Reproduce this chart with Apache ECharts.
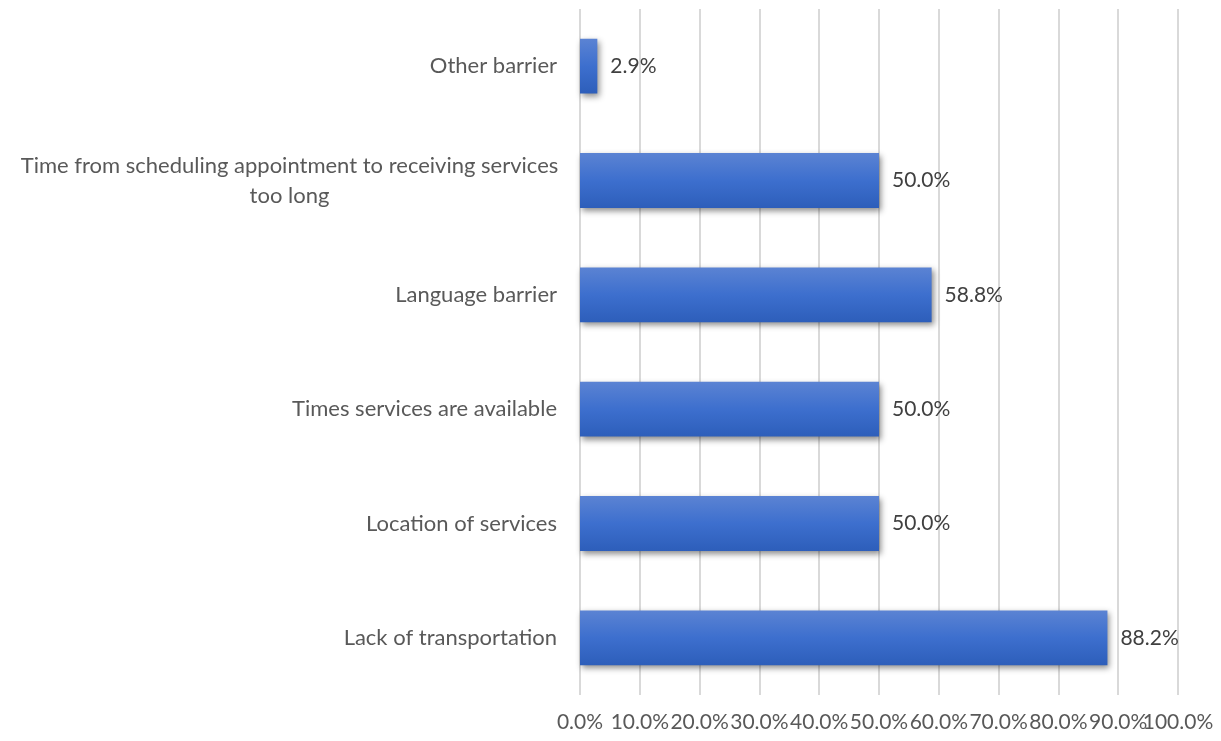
<!DOCTYPE html>
<html>
<head>
<meta charset="utf-8">
<script src="https://cdn.jsdelivr.net/npm/echarts@6/dist/echarts.min.js"></script>
<style>
  html, body { margin: 0; padding: 0; background: #fff; }
  #chart { width: 1221px; height: 741px; }
</style>
</head>
<body>
<div id="chart"></div>
<script>
// categories listed bottom -> top (category axis draws first item at bottom)
var categories = [
    'Lack of transportation',
    'Location of services',
    'Times services are available',
    'Language barrier',
    'Time from scheduling appointment to receiving services too long',
    'Other barrier'
];
var values = [88.2, 50.0, 50.0, 58.8, 50.0, 2.9];
var xTicks = [0, 10, 20, 30, 40, 50, 60, 70, 80, 90, 100];

var chart = echarts.init(document.getElementById('chart'));
var font = 'Lato, "Open Sans", sans-serif';
var catSize = 22;
var maxLabelWidth = 545;
var xMin = xTicks[0];
var xMax = xTicks[xTicks.length - 1];

// wrap long labels word by word, centre the lines like the original
var ctx = document.createElement('canvas').getContext('2d');
ctx.font = catSize + 'px ' + font;
function wrapLabel(text) {
    var words = text.split(' ');
    var lines = [];
    var cur = '';
    for (var i = 0; i < words.length; i++) {
        var test = cur ? cur + ' ' + words[i] : words[i];
        if (cur && ctx.measureText(test).width > maxLabelWidth) {
            lines.push(cur);
            cur = words[i];
        } else {
            cur = test;
        }
    }
    lines.push(cur);
    if (lines.length === 1) return text;
    return lines.map(function (l) { return '{c|' + l + '}'; }).join('\n');
}
function pct(v) { return v.toFixed(1) + '%'; }

var xLabelStyle = {
    color: '#595959',
    fontSize: 21,
    fontFamily: font,
    margin: 17
};

var option = {
    backgroundColor: '#ffffff',
    animation: false,
    grid: {
        left: 580,
        right: 43,
        top: 9,
        bottom: 46,
        containLabel: false
    },
    xAxis: [{
        type: 'value',
        min: xMin,
        max: xMax,
        interval: 10,
        axisLine: { show: false },
        axisTick: { show: false },
        splitLine: { show: true, lineStyle: { color: '#d9d9d9', width: 2 } },
        axisLabel: Object.assign({}, xLabelStyle, {
            showMinLabel: true,
            showMaxLabel: false,
            formatter: pct
        })
    }, {
        // second copy of the axis only to keep the last (overlapping) label visible
        type: 'value',
        position: 'bottom',
        min: xMin,
        max: xMax,
        interval: 10,
        axisLine: { show: false },
        axisTick: { show: false },
        splitLine: { show: false },
        axisLabel: Object.assign({}, xLabelStyle, {
            showMaxLabel: true,
            formatter: function (v) { return v === xMax ? pct(v) : ''; }
        })
    }],
    yAxis: {
        type: 'category',
        data: categories,
        axisLine: { show: false },
        axisTick: { show: false },
        axisLabel: {
            color: '#595959',
            fontSize: catSize,
            fontFamily: font,
            margin: 23,
            align: 'right',
            lineHeight: 30,
            formatter: wrapLabel,
            rich: {
                c: {
                    width: 535,
                    align: 'center',
                    color: '#595959',
                    fontSize: catSize,
                    fontFamily: font,
                    lineHeight: 30
                }
            }
        }
    },
    series: [{
        type: 'bar',
        data: values,
        barWidth: '48%',
        itemStyle: {
            color: new echarts.graphic.LinearGradient(0, 0, 0, 1, [
                { offset: 0, color: '#5b83d3' },
                { offset: 0.5, color: '#3d6fce' },
                { offset: 1, color: '#2d5eba' }
            ]),
            shadowColor: 'rgba(0,0,0,0.45)',
            shadowBlur: 6,
            shadowOffsetX: 2,
            shadowOffsetY: 3
        },
        label: {
            show: true,
            position: 'right',
            distance: 13,
            color: '#404040',
            fontSize: 21,
            fontFamily: font,
            formatter: function (p) { return pct(p.value); }
        }
    }]
};

chart.setOption(option);
</script>
</body>
</html>
